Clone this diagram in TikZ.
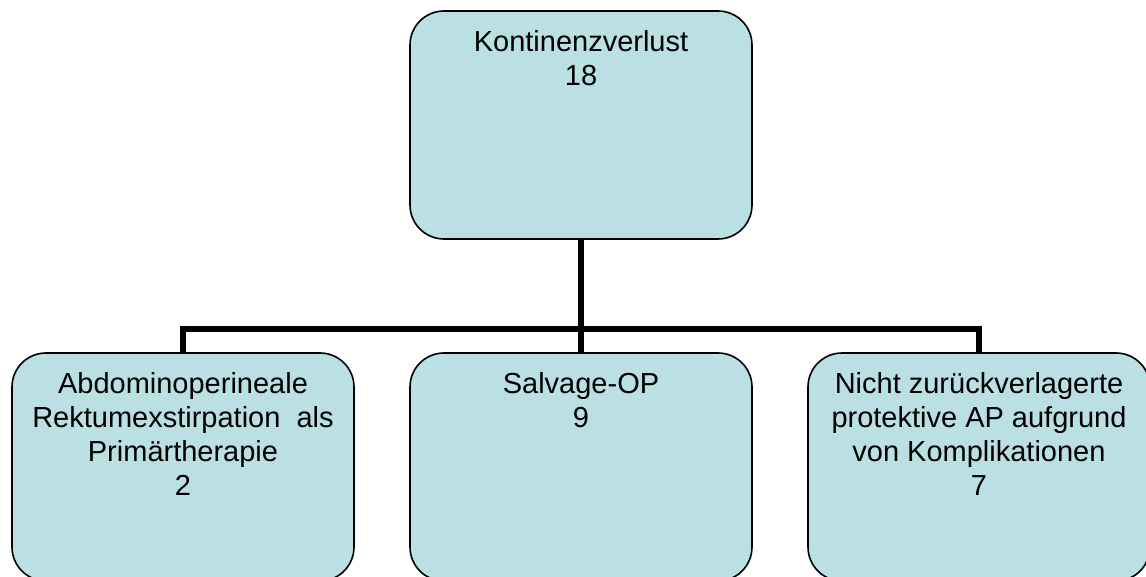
\documentclass[tikz,border=0pt]{standalone}
\usepackage{fontspec}
\setmainfont{Liberation Sans}
\definecolor{boxfill}{HTML}{BBE0E3}
\begin{document}
\begin{tikzpicture}[x=0.75pt,y=-0.75pt,
  box/.style={draw=black, line width=1.2pt, fill=boxfill, rounded corners=25.5pt,
    minimum width=256.5pt, minimum height=171pt, inner sep=0pt, outer sep=0pt},
  lbl/.style={anchor=north, inner sep=0pt, align=center,
    font=\fontsize{21.75pt}{25.5pt}\selectfont, yshift=-14.25pt},
  conn/.style={draw=black, line width=4.2pt}]
\useasboundingbox (0,0) rectangle (1146,577);
\clip (0,0) rectangle (1146,577);
\node[box] (top) at (581,125) {};
\node[box] (left) at (183,467) {};
\node[box] (mid) at (581,467) {};
\node[box] (right) at (979,467) {};
\coordinate (j) at (581,329);
\draw[conn] (top.south) -- (mid.north);
\draw[conn] (left.north) |- (j) -| (right.north);
\node[lbl] (toptext) at (top.north) {Kontinenzverlust\\18};
\node[lbl] (lefttext) at (left.north) {Abdominoperineale\\Rektumexstirpation~ als\\Primärtherapie\\2};
\node[lbl] (midtext) at (mid.north) {Salvage-OP\\9};
\node[lbl] (righttext) at (right.north) {Nicht zurückverlagerte\\protektive AP aufgrund\\von Komplikationen\\7};
\end{tikzpicture}
\end{document}
